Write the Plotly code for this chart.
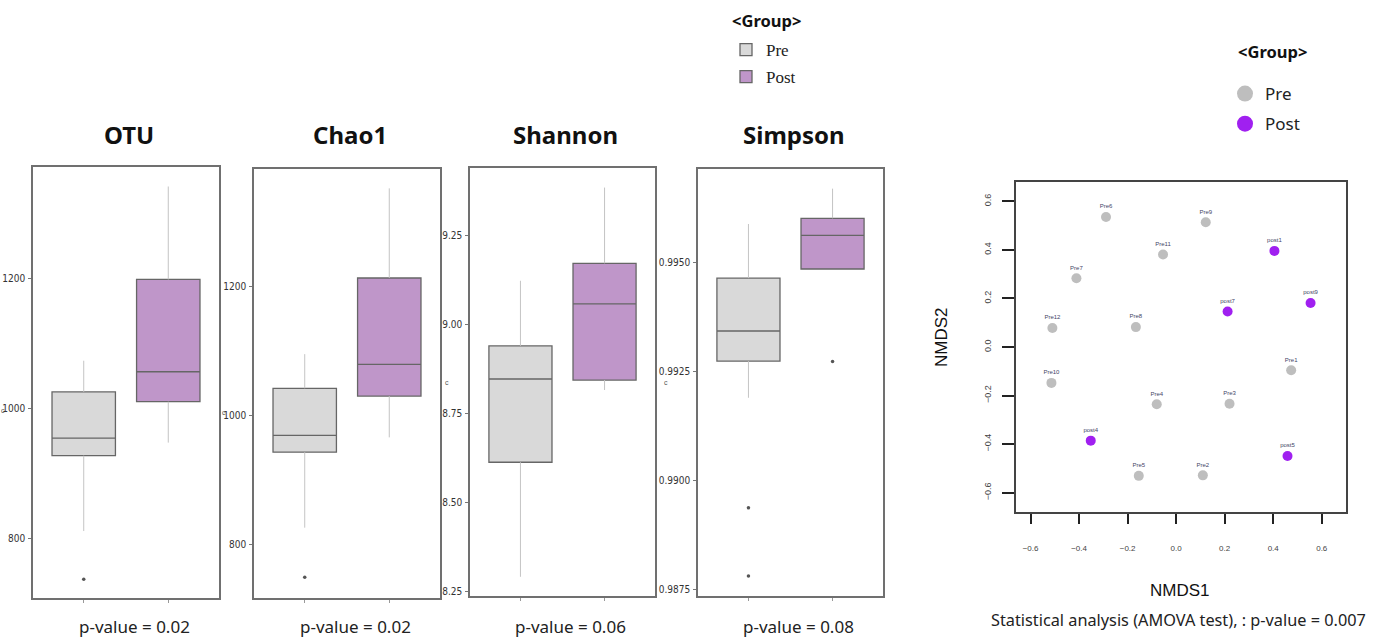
import plotly.graph_objects as go

W, H = 1374, 639

# ---------------- data ----------------
groups = ["Pre", "Post"]
group_pos = [1, 2]

otu_q1 = [928, 1011]
otu_med = [955, 1057]
otu_q3 = [1026, 1199]
otu_lo = [812, 948]
otu_hi = [1074, 1342]
otu_out_pre = [738]
otu_out_post = []

chao1_q1 = [943, 1030]
chao1_med = [969, 1079]
chao1_q3 = [1042, 1213]
chao1_lo = [826, 966]
chao1_hi = [1095, 1352]
chao1_out_pre = [749]
chao1_out_post = []

shannon_q1 = [8.614, 8.845]
shannon_med = [8.848, 9.059]
shannon_q3 = [8.941, 9.173]
shannon_lo = [8.292, 8.817]
shannon_hi = [9.124, 9.386]
shannon_out_pre = []
shannon_out_post = []

simpson_q1 = [0.99273, 0.99484]
simpson_med = [0.99342, 0.99561]
simpson_q3 = [0.99463, 0.99600]
simpson_lo = [0.99189, 0.99484]
simpson_hi = [0.99587, 0.99668]
simpson_out_pre = [0.98937, 0.98781]
simpson_out_post = [0.99272]

panel_titles = ["OTU", "Chao1", "Shannon", "Simpson"]
panel_pvalues = ["p-value = 0.02", "p-value = 0.02", "p-value = 0.06", "p-value = 0.08"]

nmds_pre_names = ["Pre1", "Pre2", "Pre3", "Pre4", "Pre5", "Pre6", "Pre7", "Pre8", "Pre9", "Pre10", "Pre11", "Pre12"]
nmds_pre_x = [0.474, 0.110, 0.220, -0.080, -0.154, -0.289, -0.411, -0.166, 0.122, -0.514, -0.054, -0.510]
nmds_pre_y = [-0.096, -0.529, -0.234, -0.236, -0.531, 0.536, 0.283, 0.082, 0.514, -0.148, 0.381, 0.078]
nmds_post_names = ["post1", "post4", "post5", "post7", "post9"]
nmds_post_x = [0.405, -0.352, 0.459, 0.212, 0.554]
nmds_post_y = [0.396, -0.386, -0.449, 0.146, 0.181]
nmds_xticks = [-0.6, -0.4, -0.2, 0.0, 0.2, 0.4, 0.6]
nmds_yticks = [-0.6, -0.4, -0.2, 0.0, 0.2, 0.4, 0.6]
amova_text = "Statistical analysis (AMOVA test), : p-value = 0.007"
legend_title = "<b>&lt;Group&gt;</b>"

# ---------------- styles / layout ----------------
fill_colors = ["#d9d9d9", "#bf96c9"]
pt_colors = ["#bebebe", "#a020f0"]
TICK_FONT = "DejaVu Sans Condensed, Liberation Sans Narrow, Liberation Sans, sans-serif"


def fx(p):
    return p / W


def fy(p):
    return 1 - p / H


panels = [
    dict(q1=otu_q1, med=otu_med, q3=otu_q3, lo=otu_lo, hi=otu_hi, outs=[otu_out_pre, otu_out_post],
         dx=(33, 219), dy=(167, 598), rng=[709, 1372], tv=[800, 1000, 1200], fmt="d", cx=3, cy=410),
    dict(q1=chao1_q1, med=chao1_med, q3=chao1_q3, lo=chao1_lo, hi=chao1_hi, outs=[chao1_out_pre, chao1_out_post],
         dx=(254, 440), dy=(169, 598), rng=[717, 1382], tv=[800, 1000, 1200], fmt="d", cx=224, cy=412),
    dict(q1=shannon_q1, med=shannon_med, q3=shannon_q3, lo=shannon_lo, hi=shannon_hi, outs=[shannon_out_pre, shannon_out_post],
         dx=(470, 655), dy=(168, 596), rng=[8.238, 9.441], tv=[8.25, 8.5, 8.75, 9.0, 9.25], fmt=".2f", cx=447, cy=382),
    dict(q1=simpson_q1, med=simpson_med, q3=simpson_q3, lo=simpson_lo, hi=simpson_hi, outs=[simpson_out_pre, simpson_out_post],
         dx=(698, 883), dy=(169, 596), rng=[0.98735, 0.99713], tv=[0.9875, 0.99, 0.9925, 0.995], fmt=".4f", cx=666, cy=382),
]

fig = go.Figure()
layout_axes = {}
annotations = []

for k, p in enumerate(panels):
    n = k + 1
    xa = "x" if n == 1 else f"x{n}"
    ya = "y" if n == 1 else f"y{n}"
    for i, g in enumerate(groups):
        pos = group_pos[i]
        # whiskers
        fig.add_trace(go.Scatter(
            x=[pos, pos, None, pos, pos],
            y=[p["lo"][i], p["q1"][i], None, p["q3"][i], p["hi"][i]],
            mode="lines", line=dict(color="#c4c4c4", width=1),
            showlegend=False, hoverinfo="skip", xaxis=xa, yaxis=ya))
        fig.add_trace(go.Box(
            x=[pos], q1=[p["q1"][i]], median=[p["med"][i]], q3=[p["q3"][i]],
            lowerfence=[p["q1"][i]], upperfence=[p["q3"][i]],
            width=0.75, fillcolor=fill_colors[i], line=dict(color="#666666", width=1.3),
            boxpoints=False, name=g, showlegend=(k == 0), legend="legend", legendgroup=g,
            hoverinfo="skip", xaxis=xa, yaxis=ya))
        outs = p["outs"][i]
        if outs:
            fig.add_trace(go.Scatter(
                x=[pos] * len(outs), y=outs, mode="markers",
                marker=dict(size=3.5, color="#555555"),
                showlegend=False, hoverinfo="skip", xaxis=xa, yaxis=ya))
    xkey = "xaxis" if n == 1 else f"xaxis{n}"
    ykey = "yaxis" if n == 1 else f"yaxis{n}"
    layout_axes[xkey] = dict(
        domain=[fx(p["dx"][0]), fx(p["dx"][1])], range=[0.4, 2.6], anchor=ya,
        tickvals=group_pos, ticktext=["", ""], ticks="outside", ticklen=3, tickcolor="#999999",
        showline=True, mirror=True, linecolor="#707070", linewidth=1.5,
        showgrid=False, zeroline=False, fixedrange=True)
    layout_axes[ykey] = dict(
        domain=[fy(p["dy"][1]), fy(p["dy"][0])], range=p["rng"], anchor=xa,
        tickvals=p["tv"], tickformat=p["fmt"], ticks="outside", ticklen=3, tickcolor="#777777",
        tickfont=dict(family=TICK_FONT, size=10, color="#333333"), ticklabelstandoff=1,
        showline=True, mirror=True, linecolor="#707070", linewidth=1.5,
        showgrid=False, zeroline=False, fixedrange=True)
    cxm = (p["dx"][0] + p["dx"][1]) / 2
    annotations.append(dict(text=f"<b>{panel_titles[k]}</b>", x=fx(cxm + 3), y=fy(135), xref="paper", yref="paper",
                            showarrow=False, xanchor="center", yanchor="middle",
                            font=dict(family="Noto Sans, Open Sans, sans-serif", size=24, color="#111111")))
    annotations.append(dict(text=panel_pvalues[k], x=fx(cxm + 8), y=fy(626), xref="paper", yref="paper",
                            showarrow=False, xanchor="center", yanchor="middle",
                            font=dict(family="Noto Sans, Open Sans, sans-serif", size=17, color="#222222")))
    annotations.append(dict(text="c", x=fx(p["cx"]), y=fy(p["cy"]), xref="paper", yref="paper",
                            showarrow=False, xanchor="center", yanchor="middle",
                            font=dict(family="Liberation Sans", size=7, color="#555555")))

# ---------------- NMDS ----------------
fig.add_trace(go.Scatter(
    x=nmds_pre_x, y=nmds_pre_y, text=nmds_pre_names, mode="markers+text", textposition="top center",
    textfont=dict(family="Liberation Sans", size=6, color="#444466"),
    marker=dict(size=10, color=pt_colors[0]), showlegend=False, hoverinfo="skip",
    xaxis="x5", yaxis="y5"))
fig.add_trace(go.Scatter(
    x=nmds_post_x, y=nmds_post_y, text=nmds_post_names, mode="markers+text", textposition="top center",
    textfont=dict(family="Liberation Sans", size=6, color="#444466"),
    marker=dict(size=10, color=pt_colors[1]), showlegend=False, hoverinfo="skip",
    xaxis="x5", yaxis="y5"))
for i, g in enumerate(groups):
    fig.add_trace(go.Scatter(
        x=[None], y=[None], mode="markers", marker=dict(size=17, color=pt_colors[i]),
        name=g, legend="legend2", legendgroup="n" + g, xaxis="x5", yaxis="y5"))

layout_axes["xaxis5"] = dict(
    domain=[fx(1016), fx(1346)], range=[-0.66, 0.70], anchor="y5",
    tickvals=nmds_xticks, tickformat=".1f", ticks="outside", ticklen=10, tickwidth=1.5, tickcolor="#222222",
    tickfont=dict(family="Liberation Sans", size=8, color="#444444"), ticklabelstandoff=18,
    showline=True, mirror=True, linecolor="#444444", linewidth=1.5,
    showgrid=False, zeroline=False, fixedrange=True)
layout_axes["yaxis5"] = dict(
    domain=[fy(512), fy(182)], range=[-0.68, 0.68], anchor="x5",
    tickvals=nmds_yticks, tickformat=".1f", ticks="outside", ticklen=12, tickwidth=1.5, tickcolor="#222222",
    tickfont=dict(family="Liberation Sans", size=9, color="#444444"), tickangle=-90, ticklabelstandoff=8,
    showline=True, mirror=True, linecolor="#444444", linewidth=1.5,
    showgrid=False, zeroline=False, fixedrange=True)

annotations.append(dict(text="NMDS1", x=fx(1180), y=fy(590), xref="paper", yref="paper", showarrow=False,
                        xanchor="center", yanchor="middle",
                        font=dict(family="Liberation Sans, Arial, sans-serif", size=17, color="#111111")))
annotations.append(dict(text="NMDS2", x=fx(942), y=fy(337), xref="paper", yref="paper", showarrow=False,
                        xanchor="center", yanchor="middle", textangle=-90,
                        font=dict(family="Liberation Sans, Arial, sans-serif", size=17, color="#111111")))
annotations.append(dict(text=amova_text, x=fx(1178), y=fy(620), xref="paper", yref="paper", showarrow=False,
                        xanchor="center", yanchor="middle",
                        font=dict(family="Noto Sans, Open Sans, sans-serif", size=16.3, color="#222222")))
# legend titles
annotations.append(dict(text=legend_title, x=fx(767), y=fy(20), xref="paper", yref="paper", showarrow=False,
                        xanchor="center", yanchor="middle",
                        font=dict(family="Noto Sans, sans-serif", size=16.5, color="#111111")))
annotations.append(dict(text=legend_title, x=fx(1272), y=fy(52), xref="paper", yref="paper", showarrow=False,
                        xanchor="center", yanchor="middle",
                        font=dict(family="Noto Sans, sans-serif", size=16.5, color="#111111")))

fig.update_layout(
    width=W, height=H, margin=dict(l=0, r=0, t=0, b=0),
    paper_bgcolor="white", plot_bgcolor="white",
    boxmode="overlay",
    legend=dict(x=fx(726), y=fy(32), xanchor="left", yanchor="top",
                font=dict(family="Liberation Serif, serif", size=17, color="#222222"),
                bgcolor="rgba(0,0,0,0)", tracegroupgap=2),
    legend2=dict(x=fx(1225), y=fy(76), xanchor="left", yanchor="top",
                 font=dict(family="Noto Sans, sans-serif", size=17, color="#222222"),
                 bgcolor="rgba(0,0,0,0)", tracegroupgap=5),
    annotations=annotations,
    **layout_axes,
)

fig.write_html("out.html", config={"displayModeBar": False},
               post_script="document.body.style.margin='0';document.body.style.padding='0';")
